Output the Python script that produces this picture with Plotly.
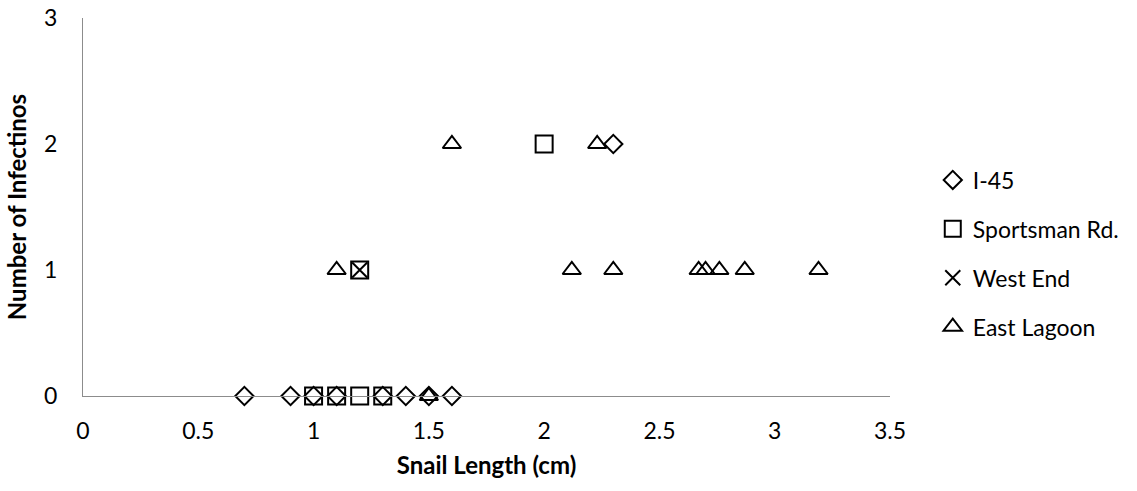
import plotly.graph_objects as go

# Data
i45_x = [0.7, 0.9, 1.0, 1.1, 1.3, 1.4, 1.5, 1.6, 2.3]
i45_y = [0, 0, 0, 0, 0, 0, 0, 0, 2]
sports_x = [1.0, 1.1, 1.2, 1.3, 1.2, 2.0]
sports_y = [0, 0, 0, 0, 1, 2]
west_x = [1.2]
west_y = [1]
east_x = [1.5, 1.1, 2.12, 2.3, 2.67, 2.7, 2.76, 2.87, 3.19, 1.6, 2.23]
east_y = [0, 1, 1, 1, 1, 1, 1, 1, 1, 2, 2]

series = [
    ("I-45", i45_x, i45_y, "diamond-open", 14),
    ("Sportsman Rd.", sports_x, sports_y, "square-open", 17),
    ("West End", west_x, west_y, "x-thin-open", 15),
    ("East Lagoon", east_x, east_y, "triangle-up-open", 16),
]

FONT = "Lato, 'Open Sans', sans-serif"

fig = go.Figure()
for i, (name, xs, ys, sym, sz) in enumerate(series):
    fig.add_trace(go.Scatter(
        x=xs, y=ys, mode="markers", name=name, legendgroup=str(i),
        cliponaxis=False,
        marker=dict(symbol=sym, size=sz, color="black",
                    line=dict(color="black", width=2)),
    ))

fig.update_layout(
    width=1137, height=491,
    margin=dict(l=83, r=247, t=18, b=95, autoexpand=False),
    paper_bgcolor="white", plot_bgcolor="white",
    font=dict(family=FONT, color="black", size=23),
    showlegend=True,
    legend=dict(x=1.053, y=0.377, yanchor="middle", xanchor="left",
                tracegroupgap=16, font=dict(size=23, family=FONT),
                itemwidth=30),
    xaxis=dict(range=[0, 3.5], dtick=0.5, showgrid=False, zeroline=False,
               showline=True, linecolor="#8c8c8c", linewidth=1, automargin=False,
               ticks="", tickfont=dict(size=23), ticklabelstandoff=14,
               title=dict(text="<b>Snail Length (cm)</b>", font=dict(size=24), standoff=14)),
    yaxis=dict(range=[0, 3], dtick=1, showgrid=False, zeroline=False,
               showline=True, linecolor="#8c8c8c", linewidth=1, automargin=False,
               ticks="", tickfont=dict(size=23), ticklabelstandoff=20,
               ticklabeloverflow="allow",
               title=dict(text="<b>Number of Infectinos</b>", font=dict(size=24), standoff=10)),
)

# remove the page's default 8px body margin so the figure sits at the window origin
fig.write_html("out.html", config={"displayModeBar": False},
               post_script="document.body.style.margin='0';")
